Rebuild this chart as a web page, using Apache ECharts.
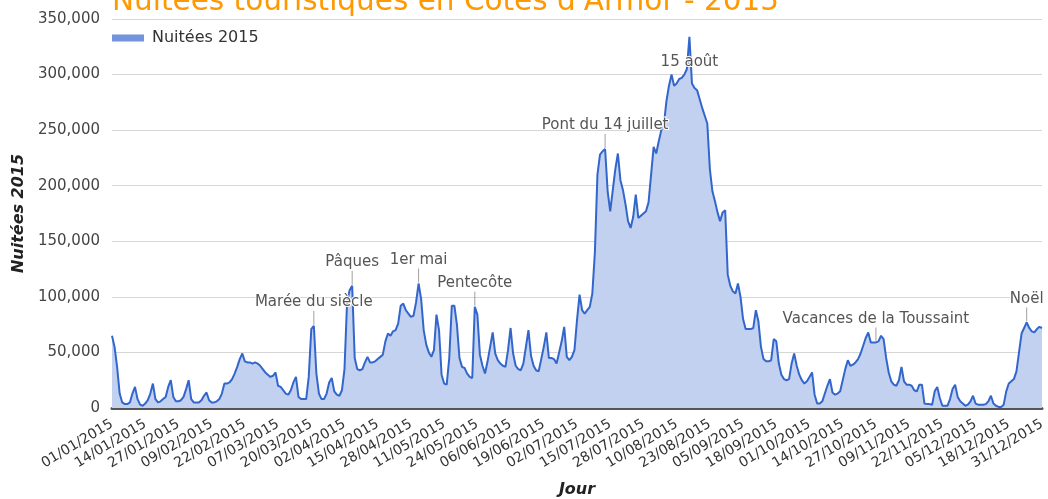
<!DOCTYPE html>
<html>
<head>
<meta charset="utf-8">
<script src="https://cdn.jsdelivr.net/npm/echarts@6/dist/echarts.min.js"></script>
<style>
html,body{margin:0;padding:0;background:#fff;}
#chart{width:1048px;height:499px;}
</style>
</head>
<body>
<div id="chart"></div>
<script>
// ---- DATA ----
const chartTitle = "Nuitées touristiques en Côtes d'Armor - 2015";
const seriesName = "Nuitées 2015";
const xAxisTitle = "Jour";
const yAxisTitle = "Nuitées 2015";
const year = 2015;

// daily values, 01/01/2015 .. 31/12/2015
const nuitees = [
 65000,55000,37000,13000,5000,3500,3500,5000,13000,19000,
 8000,3000,2000,4000,7000,13000,22000,8000,5000,6000,
 8000,10000,19000,25000,10000,6000,6000,7000,10000,17000,
 25000,8000,5000,5000,5000,7000,11000,14000,7000,5000,
 5000,6000,8000,13000,22000,22000,23000,26000,31000,37000,
 44000,49000,42000,41000,41000,40000,41000,40000,38000,35000,
 32000,30000,28000,29000,32000,20000,19000,16000,13000,12000,
 16000,23000,28000,10000,8000,8000,8000,28000,71000,74000,
 31000,13000,8000,8000,13000,23000,27000,15000,12000,11000,
 16000,35000,95000,106000,110000,45000,35000,34000,35000,41000,
 46000,41000,41000,42000,44000,46000,48000,60000,67000,65000,
 69000,70000,76000,92000,94000,88000,85000,82000,83000,95000,
 112000,98000,70000,57000,50000,46000,52000,84000,70000,30000,
 22000,21000,45000,92000,92000,75000,45000,37000,36000,31000,
 28000,27000,91000,84000,48000,38000,31000,42000,55000,68000,
 49000,43000,40000,38000,37000,52000,72000,49000,38000,35000,
 34000,40000,55000,70000,47000,38000,34000,33000,44000,55000,
 68000,45000,45000,44000,40000,50000,60000,73000,46000,43000,
 46000,52000,79000,102000,88000,85000,88000,91000,103000,140000,
 210000,228000,231000,233000,195000,177000,196000,215000,229000,205000,
 196000,183000,168000,162000,172000,192000,171000,173000,175000,177000,
 185000,210000,235000,229000,240000,250000,255000,276000,290000,300000,
 290000,292000,296000,297000,300000,305000,334000,292000,288000,286000,
 278000,270000,263000,256000,215000,195000,186000,176000,168000,176000,
 178000,120000,110000,105000,103000,112000,100000,80000,71000,71000,
 71000,72000,88000,78000,55000,44000,42000,42000,43000,62000,
 60000,40000,30000,26000,25000,26000,40000,49000,38000,30000,
 25000,22000,24000,28000,32000,12000,4000,4000,6000,13000,
 20000,26000,14000,12000,13000,15000,25000,35000,43000,38000,
 39000,41000,44000,49000,56000,63000,68000,59000,59000,59000,
 60000,65000,62000,45000,32000,24000,21000,20000,25000,37000,
 24000,21000,21000,20000,16000,15000,21000,21000,4000,3500,
 3500,3000,15000,19000,9000,2000,2000,2000,8000,17000,
 21000,10000,6000,4000,2000,3000,6000,11000,4000,3000,
 3000,3000,3500,6000,11000,4000,2000,1000,1000,3000,
 15000,22000,24000,26000,33000,50000,67000,72000,77000,72000,
 69000,68000,71000,73000,72000
];

// annotations: label text and day-of-year index (0 = 01/01)
const annotationLabels = ["Marée du siècle","Pâques","1er mai","Pentecôte","Pont du 14 juillet","15 août","Vacances de la Toussaint","Noël"];
const annotationDays = [79, 94, 120, 142, 193, 226, 299, 358];
const annotationBelow = [false,false,false,false,false,true,false,false];

const yMin = 0, yMax = 350000, yStep = 50000;
const xLabelEvery = 13;

// ---- build categories ----
function pad(n){return (n<10?'0':'')+n;}
const days = [];
for (let i = 0; i < nuitees.length; i++) {
  const d = new Date(Date.UTC(year, 0, 1 + i));
  days.push(pad(d.getUTCDate()) + '/' + pad(d.getUTCMonth()+1) + '/' + d.getUTCFullYear());
}

const markData = annotationLabels.map((name, k) => {
  const idx = annotationDays[k];
  const below = annotationBelow[k];
  return {
    name: name,
    coord: [days[idx], nuitees[idx]],
    symbol: 'rect',
    symbolSize: [1, 14],
    symbolOffset: [0, below ? 10 : -8],
    itemStyle: { color: below ? 'rgba(0,0,0,0)' : '#a0a0a0' },
    label: {
      show: true,
      formatter: name,
      position: below ? 'bottom' : 'top',
      distance: 1
    }
  };
});

const chart = echarts.init(document.getElementById('chart'), null, {renderer: 'canvas'});
const font = 'DejaVu Sans, Verdana, sans-serif';
chart.setOption({
  animation: false,
  backgroundColor: '#fff',
  textStyle: { fontFamily: font },
  title: {
    text: chartTitle,
    left: 112,
    top: -13,
    padding: 0,
    textStyle: { color: '#ff9900', fontSize: 29.5, fontWeight: 'normal', fontFamily: font }
  },
  legend: {
    left: 112,
    top: 30,
    padding: 0,
    itemWidth: 32,
    itemHeight: 7,
    itemGap: 10,
    icon: 'rect',
    textStyle: { color: '#333', fontSize: 16, fontFamily: font, padding: [0, 0, 0, 3] },
    data: [{ name: seriesName, itemStyle: { color: '#7393dd' } }]
  },
  grid: { left: 112, right: 6, top: 19, bottom: 91, containLabel: false, outerBoundsMode: 'none' },
  xAxis: {
    type: 'category',
    data: days,
    boundaryGap: false,
    name: xAxisTitle,
    nameLocation: 'middle',
    nameGap: 74,
    nameTextStyle: { fontStyle: 'italic', fontWeight: 'bold', fontSize: 16, color: '#222', fontFamily: font },
    axisLine: { show: true, lineStyle: { color: '#555', width: 3 } },
    axisTick: { show: false },
    axisLabel: {
      interval: xLabelEvery - 1,
      rotate: 31,
      margin: 15,
      color: '#333',
      fontSize: 14,
      fontFamily: font
    },
    splitLine: { show: false }
  },
  yAxis: {
    type: 'value',
    min: yMin, max: yMax, interval: yStep,
    name: yAxisTitle,
    nameLocation: 'middle',
    nameGap: 82,
    nameTextStyle: { fontStyle: 'italic', fontWeight: 'bold', fontSize: 16, color: '#222', fontFamily: font },
    axisLine: { show: false },
    axisTick: { show: false },
    axisLabel: {
      margin: 12,
      color: '#444',
      fontSize: 15,
      fontFamily: font,
      formatter: v => v.toLocaleString('en-US')
    },
    splitLine: { show: true, lineStyle: { color: '#d6d6d6', width: 1 } }
  },
  series: [{
    name: seriesName,
    type: 'line',
    data: nuitees,
    showSymbol: false,
    symbol: 'none',
    lineStyle: { color: '#3366cc', width: 2 },
    itemStyle: { color: '#3366cc' },
    areaStyle: { color: '#c2d1ef', opacity: 1 },
    markPoint: {
      silent: true,
      data: markData,
      label: {
        color: '#555',
        fontSize: 15,
        fontFamily: font,
        textBorderColor: '#fff',
        textBorderWidth: 2
      }
    }
  }]
});
</script>
</body>
</html>
